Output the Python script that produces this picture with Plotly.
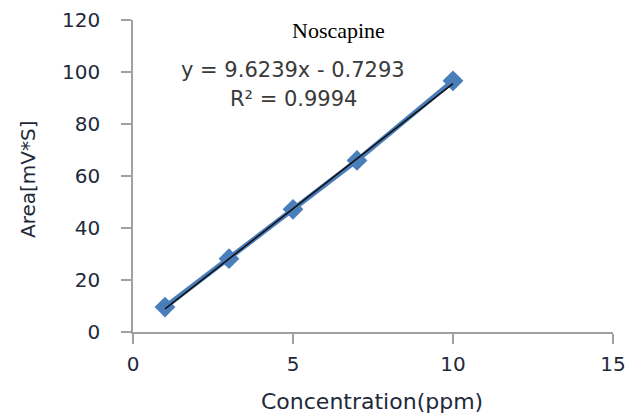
import plotly.graph_objects as go

conc = [1, 3, 5, 7, 10]
area = [9.6, 28.2, 47.2, 66.0, 96.6]
slope = 9.6239
intercept = -0.7293
x_ticks = [0, 5, 10, 15]
y_ticks = [0, 20, 40, 60, 80, 100, 120]

fit_x = [conc[0], conc[-1]]
fit_y = [slope * v + intercept for v in fit_x]

fig = go.Figure()
fig.add_trace(go.Scatter(x=conc, y=area, mode="lines+markers",
                         line=dict(color="#4a7ebb", width=5),
                         marker=dict(symbol="diamond", size=16, color="#4a7ebb"),
                         showlegend=False))
fig.add_trace(go.Scatter(x=fit_x, y=fit_y, mode="lines",
                         line=dict(color="#111111", width=1.6), showlegend=False))

sans = "DejaVu Sans, sans-serif"
tickfont = dict(family=sans, size=20, color="#1e2a3a")
axis_common = dict(showgrid=False, zeroline=False, showline=True, linecolor="#a0a0a0",
                   linewidth=1.5, ticks="outside", tickcolor="#a0a0a0", ticklen=10,
                   tickwidth=1.5, tickfont=tickfont, automargin=False)

fig.update_xaxes(range=[0, 15], tickvals=x_ticks, ticklabelstandoff=3, **axis_common)
fig.update_yaxes(range=[0, 120], tickvals=y_ticks, ticklabelstandoff=17, **axis_common)

fig.update_layout(width=636, height=408, margin=dict(l=125, r=31, t=12, b=84),
                  plot_bgcolor="white", paper_bgcolor="white")

ann_font = dict(family=sans, size=21, color="#3a3a3a")


def px_to_paper(px, py):
    return (px - 133) / 480, (332 - py) / 312


for txt, (px, py), fnt, ang in [
    ("Noscapine", (338, 30), dict(family="Liberation Serif, serif", size=22, color="black"), 0),
    ("y = 9.6239x - 0.7293", (293, 70), ann_font, 0),
    ("R² = 0.9994", (293, 99), ann_font, 0),
    ("Area[mV*S]", (28, 179), dict(family=sans, size=20, color="#1e2a3a"), -90),
    ("Concentration(ppm)", (372, 401), dict(family=sans, size=22, color="#1e2a3a"), 0),
]:
    xp, yp = px_to_paper(px, py)
    fig.add_annotation(x=xp, y=yp, xref="paper", yref="paper", text=txt, showarrow=False,
                       font=fnt, xanchor="center", yanchor="middle", textangle=ang)

fig.write_html("out.html")
